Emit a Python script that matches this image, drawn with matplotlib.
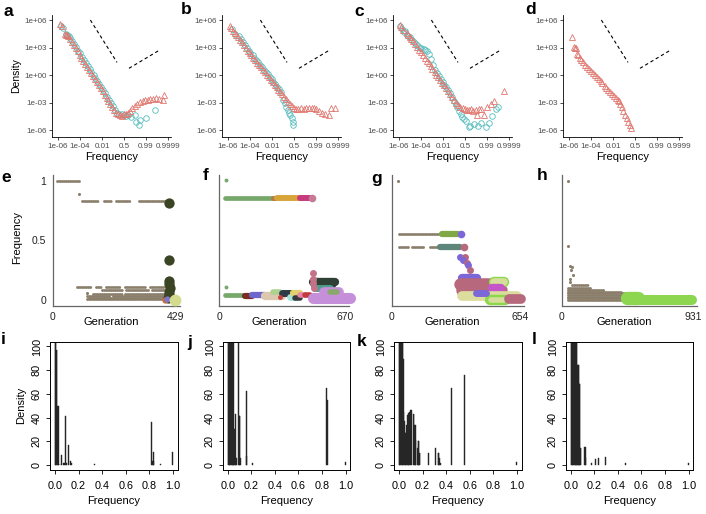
import matplotlib
matplotlib.use("Agg")
import matplotlib.pyplot as plt
import matplotlib.ticker as mticker
import numpy as np

plt.rcParams['font.family'] = ['Liberation Sans', 'DejaVu Sans']

# ---------------- top row: site frequency spectra (log10 density) ----------------
a_tri_f = [1.4e-6, 2.2e-6, 4.5e-6, 5.5e-6, 6.5e-6, 8e-6, 1.2e-5, 1.8e-5, 2.7e-5, 4e-5, 6e-5, 9e-5, 1.35e-4, 2e-4,
           3e-4, 4.5e-4, 6.8e-4, 1e-3, 1.5e-3, 2.3e-3, 3.4e-3, 5e-3, 7.5e-3, 0.011, 0.017, 0.025, 0.037, 0.055,
           0.08, 0.115, 0.16, 0.22, 0.3, 0.4, 0.5, 0.6, 0.7, 0.77, 0.84, 0.9, 0.94, 0.965, 0.98, 0.988, 0.993,
           0.996, 0.9977, 0.9988, 0.9994, 0.9997, 0.99975]
a_tri_d = [5.55, 5.3, 4.45, 4.4, 4.35, 4.26, 3.92, 3.58, 3.24, 2.92, 2.57, 2.24, 1.90, 1.57, 1.23, 0.90, 0.55, 0.23,
           -0.11, -0.47, -0.80, -1.12, -1.45, -1.78, -2.15, -2.48, -2.81, -3.16, -3.50, -3.83, -4.15, -4.3, -4.4,
           -4.45, -4.3, -4.2, -4.1, -3.9, -3.6, -3.4, -3.2, -2.95, -2.8, -2.7, -2.7, -2.6, -2.6, -2.55, -2.6, -2.7, -2.2]
a_circ_f = [2e-6, 2.6e-6, 5e-6, 6e-6, 9e-6, 1.35e-5, 2e-5, 3e-5, 4.5e-5, 6.8e-5, 1e-4, 1.5e-4, 2.3e-4, 3.4e-4, 5e-4,
            7.5e-4, 1.1e-3, 1.7e-3, 2.5e-3, 3.7e-3, 5.5e-3, 8e-3, 0.012, 0.018, 0.027, 0.04, 0.06, 0.09, 0.13, 0.19,
            0.27, 0.38, 0.5, 0.6, 0.7, 0.82, 0.9, 0.93, 0.958, 0.964, 0.9907, 0.9984]
a_circ_d = [5.35, 5.1, 4.45, 4.4, 4.3, 4.02, 3.69, 3.35, 3.02, 2.67, 2.35, 2.01, 1.66, 1.33, 1.01, 0.67, 0.35, -0.01,
            -0.34, -0.66, -1.0, -1.31, -1.65, -2.0, -2.35, -2.68, -3.04, -3.4, -3.8, -4.1, -4.2, -4.3, -4.35, -4.5,
            -4.36, -4.55, -4.36, -5.1, -5.45, -4.9, -4.73, -3.82]

b_tri_f = [1.4e-6, 2e-6, 2.85e-6, 4e-6, 5.7e-6, 8e-6, 1.2e-5, 1.8e-5, 2.7e-5, 4e-5, 6e-5, 9e-5, 1.35e-4, 2e-4, 3e-4,
           4.5e-4, 6.8e-4, 1e-3, 1.5e-3, 2.3e-3, 3.4e-3, 5e-3, 7.5e-3, 0.011, 0.017, 0.025, 0.037, 0.055, 0.08, 0.115,
           0.16, 0.22, 0.3, 0.4, 0.5, 0.6, 0.7, 0.8, 0.88, 0.93, 0.96, 0.975, 0.985, 0.9907, 0.995, 0.997, 0.9985,
           0.9993, 0.99959, 0.9998]
b_tri_d = [5.35, 5.1, 4.75, 4.55, 4.4, 4.15, 3.85, 3.55, 3.25, 2.95, 2.65, 2.35, 2.15, 1.89, 1.62, 1.36, 1.08, 0.83,
           0.56, 0.28, 0.02, -0.24, -0.5, -0.76, -1.05, -1.31, -1.58, -1.85, -2.12, -2.38, -2.63, -2.89, -3.17, -3.4,
           -3.65, -3.75, -3.7, -3.65, -3.7, -3.6, -3.65, -3.55, -3.6, -3.7, -3.9, -4.1, -4.3, -4.4, -3.55, -3.55]
b_circ_f = [2.2e-6, 4.5e-6, 1e-5, 1.5e-5, 2.2e-5, 3.3e-5, 5e-5, 7.5e-5, 1.1e-4, 1.7e-4, 2.5e-4, 3.7e-4, 5.5e-4,
            8.2e-4, 1.2e-3, 1.8e-3, 2.7e-3, 4e-3, 6e-3, 9e-3, 0.013, 0.02, 0.03, 0.045, 0.065, 0.09, 0.13, 0.17,
            0.22, 0.27, 0.32, 0.38, 0.45, 0.47]
b_circ_d = [5.0, 4.5, 4.23, 3.9, 3.58, 3.26, 2.91, 2.62, 2.44, 2.15, 1.89, 1.63, 1.37, 1.11, 0.86, 0.59, 0.32, 0.06,
            -0.21, -0.48, -0.72, -1.01, -1.28, -1.57, -1.82, -2.73, -3.1, -3.45, -3.8, -4.1, -4.4, -4.7, -5.1, -5.45]

c_tri_f = [1.2e-6, 1.6e-6, 2.2e-6, 4.9e-6, 6.5e-6, 9e-6, 1.35e-5, 2e-5, 3e-5, 4.5e-5, 6.8e-5, 1e-4, 1.5e-4, 2.3e-4,
           3.4e-4, 5e-4, 7.5e-4, 1.1e-3, 1.7e-3, 2.5e-3, 3.7e-3, 5.5e-3, 8e-3, 0.012, 0.018, 0.027, 0.04, 0.06, 0.09,
           0.13, 0.19, 0.27, 0.38, 0.5, 0.6, 0.7, 0.78, 0.85, 0.9, 0.93, 0.945, 0.965, 0.98, 0.99, 0.9955, 0.9978,
           0.9997]
c_tri_d = [5.45, 5.27, 4.9, 4.55, 4.4, 4.2, 3.96, 3.67, 3.37, 3.07, 2.76, 2.47, 2.16, 1.84, 1.55, 1.26, 0.95, 0.66,
           0.34, 0.05, -0.24, -0.54, -0.83, -1.14, -1.44, -1.76, -2.06, -2.38, -2.71, -3.0, -3.3, -3.5, -3.65, -3.7,
           -3.8, -3.85, -3.75, -3.9, -3.8, -4.4, -3.7, -3.75, -4.4, -3.5, -3.2, -2.85, -1.7]
c_circ_f = [1.3e-6, 1.8e-6, 2.6e-6, 3.5e-6, 5e-6, 7e-6, 1e-5, 1.5e-5, 2.2e-5, 3.3e-5, 5e-5, 7.5e-5, 1.1e-4, 1.7e-4,
            2.5e-4, 3.7e-4, 5.5e-4, 8.2e-4, 1.2e-3, 1.8e-3, 2.7e-3, 4e-3, 6e-3, 9e-3, 0.013, 0.02, 0.03, 0.045,
            0.065, 0.09, 0.13, 0.17, 0.22, 0.3, 0.35, 0.45, 0.55, 0.71, 0.73, 0.874, 0.933, 0.965, 0.987, 0.9936,
            0.9968, 0.9984, 0.999]
c_circ_d = [5.3, 5.05, 4.7, 4.85, 4.35, 4.3, 4.1, 3.85, 3.6, 3.35, 3.15, 3.0, 2.95, 2.85, 2.75, 2.6, 2.3, 1.75, 1.1,
            0.55, 0.2, -0.15, -0.45, -0.75, -1.05, -1.35, -1.65, -2.0, -2.4, -2.8, -3.2, -3.5, -3.9, -4.25, -4.6,
            -4.8, -5.0, -5.64, -5.6, -5.35, -5.53, -5.27, -5.64, -5.27, -4.44, -3.71, -3.53]

d_tri_f = [2e-6, 2.8e-6, 3.3e-6, 4.5e-6, 5.5e-6, 7e-6, 9.2e-6, 1.35e-5, 2e-5, 3e-5, 4.5e-5, 6.8e-5, 1e-4, 1.5e-4,
           2.3e-4, 3.4e-4, 5e-4, 7.5e-4, 1.1e-3, 1.7e-3, 2.5e-3, 3.7e-3, 5.5e-3, 8e-3, 0.012, 0.018, 0.025, 0.0317,
           0.044, 0.061, 0.079, 0.108, 0.147, 0.195, 0.242, 0.312]
d_tri_d = [4.18, 3.1, 3.0, 2.9, 2.3, 2.15, 1.82, 1.6, 1.38, 1.14, 0.91, 0.68, 0.46, 0.22, -0.02, -0.24, -0.46, -0.69,
           -0.91, -1.16, -1.38, -1.6, -1.83, -2.04, -2.28, -2.51, -2.7, -2.85, -3.16, -3.53, -3.93, -4.36, -4.73,
           -5.09, -5.45, -5.75]

# reference slopes (dashed)
ref1_f = [8.7e-4, 0.187]
ref1_d = [1e6, 24]
ref2_f = [0.739, 0.99943]
ref2_d = [5.4, 537]

sfs_xticks = [1e-6, 1e-4, 0.01, 0.5, 0.99, 0.9999]
sfs_xlabels = ['1e-06', '1e-04', '0.01', '0.5', '0.99', '0.9999']
sfs_yticks = [1e6, 1e3, 1, 1e-3, 1e-6]
sfs_ylabels = ['1e+06', '1e+03', '1e+00', '1e-03', '1e-06']

# ---------------- middle row: clone frequency over generations ----------------
e_gmax, f_gmax, g_gmax, h_gmax = 429, 670, 654, 931

e_rows = [(16, 90, 1.0), (102, 161, 0.83), (179, 202, 0.83), (220, 273, 0.83), (302, 395, 0.83),
          (85, 138, 0.112), (150, 167, 0.112), (185, 238, 0.112), (250, 320, 0.112), (338, 390, 0.112),
          (170, 240, 0.08), (255, 330, 0.08), (345, 395, 0.08), (140, 240, 0.05), (250, 390, 0.05),
          (120, 200, 0.035), (210, 392, 0.035), (125, 392, 0.02), (118, 385, 0.008)]
e_dots = [(90, 0.886), (118, 0.06)]
e_runs = []
e_blobs = [(406, 0.815), (406, 0.335), (403, 0.16), (405, 0.13), (407, 0.1), (404, 0.07), (406, 0.045),
           (402, 0.02), (390, 0.0), (396, 0.005), (424, 0.0)]

f_rows = []
f_dots = []
f_runs = [(30, 288, 0.852), (288, 310, 0.852), (310, 430, 0.852), (430, 483, 0.852),
          (30, 130, 0.042), (137, 172, 0.03), (172, 243, 0.042), (243, 332, 0.03), (288, 325, 0.065),
          (332, 394, 0.06), (376, 403, 0.028), (394, 430, 0.06), (403, 430, 0.014), (430, 456, 0.04),
          (456, 483, 0.042), (501, 617, 0.15), (510, 600, 0.125), (510, 590, 0.098), (501, 697, 0.02),
          (560, 640, 0.07), (590, 625, 0.07)]
f_blobs = [(34, 1.01), (36, 0.11), (492, 0.852), (501, 0.224), (501, 0.18), (501, 0.14), (505, 0.1), (323, 0.028)]

g_rows = [(39, 255, 0.553), (39, 90, 0.441), (102, 170, 0.441), (196, 246, 0.441)]
g_dots = [(34, 0.997)]
g_runs = [(255, 340, 0.553), (246, 348, 0.441), (357, 434, 0.182), (350, 500, 0.13), (360, 560, 0.085),
          (520, 575, 0.154), (520, 575, 0.154), (510, 560, 0.098), (360, 640, 0.035), (500, 580, 0.0),
          (505, 575, 0.0), (600, 660, 0.01), (430, 480, 0.056)]
g_blobs = [(352, 0.553), (369, 0.441), (348, 0.363), (374, 0.36), (365, 0.335), (383, 0.307), (390, 0.29),
           (397, 0.251)]

h_rows = [(71, 189, 0.125), (47, 212, 0.098), (47, 300, 0.085), (47, 420, 0.07), (47, 460, 0.056),
          (47, 480, 0.042), (47, 520, 0.028), (47, 520, 0.014), (47, 470, 0.0)]
h_dots = [(42, 0.997), (47, 0.455), (59, 0.285), (71, 0.279), (64, 0.251), (78, 0.209), (59, 0.176), (62, 0.15)]
h_runs = [(461, 544, 0.014), (544, 922, 0.0)]
h_blobs = []

# ---------------- bottom row: histograms ----------------
i_x = [0.0025, 0.0075, 0.0125, 0.0175, 0.0225, 0.0275, 0.0325, 0.0425, 0.0575, 0.0725, 0.0775, 0.0875, 0.0975,
       0.1175, 0.1325, 0.1425, 0.3375, 0.8175, 0.8275, 0.8325, 0.8375, 0.8925, 0.9975]
i_h = [130, 130, 97, 97, 50, 50, 1, 1, 8, 1.5, 1.5, 41, 2, 17, 3, 1.5, 1, 36, 3, 3, 11, 1, 11]
j_x = [0.0025, 0.0075, 0.0125, 0.0175, 0.0225, 0.0275, 0.0325, 0.0375, 0.0425, 0.0475, 0.0525, 0.0575, 0.0625,
       0.0675, 0.0725, 0.0925, 0.0975, 0.1025, 0.1075, 0.1575, 0.1625, 0.2125, 0.8375, 0.8425, 0.9975]
j_h = [130, 130, 130, 130, 130, 130, 130, 130, 130, 130, 30, 30, 43, 5.6, 5.6, 130, 41, 41, 5.6, 7.6, 62.5, 1.4,
       65, 55, 2.3]
k_x = [0.0025, 0.0075, 0.0125, 0.0175, 0.0225, 0.0275, 0.0325, 0.0375, 0.0425, 0.0475, 0.0525, 0.0575, 0.0625,
       0.0675, 0.0725, 0.0775, 0.0825, 0.0875, 0.0925, 0.0975, 0.1025, 0.1225, 0.1275, 0.1325, 0.1375, 0.1425,
       0.1575, 0.1625, 0.1675, 0.1725, 0.1775, 0.2475, 0.3075, 0.3325, 0.3375, 0.3425, 0.3525, 0.4425, 0.5525,
       0.9975]
k_h = [130, 130, 130, 130, 130, 130, 130, 89, 45, 37, 27, 27, 34, 30, 42, 42, 44, 45, 45, 46, 46, 43, 43, 34, 34,
       21, 14, 20, 20, 10, 10, 10, 14, 10, 10, 5.6, 1.4, 65, 76, 2.8]
l_x = [0.0025, 0.0075, 0.0125, 0.0175, 0.0225, 0.0275, 0.0325, 0.0375, 0.0425, 0.0475, 0.0525, 0.0575, 0.0625,
       0.0675, 0.0725, 0.0775, 0.0825, 0.0875, 0.1175, 0.1225, 0.1275, 0.1775, 0.2075, 0.2375, 0.2925, 0.4675,
       0.9975]
l_h = [130, 130, 130, 130, 130, 130, 130, 130, 130, 130, 130, 84.5, 84.5, 84.5, 68, 68, 14, 14, 15.5, 15.5, 5.6,
       2, 4.8, 5.6, 7, 1.4, 1.4]

# ---------------- styles ----------------
tri_col = '#E0776F'
circ_col = '#55BCBD'
brown = '#8B7F6C'
olive = '#3B4423'
green = '#77A86B'
purple = '#7C67D8'
mauve = '#B7687C'

e_run_style = []
e_blob_style = [(olive, 7.4)] * 8 + [('#C8693B', 4.5), ('#7D76C9', 4.5), ('#D4DB8E', 8.5)]
f_run_style = [(green, 3.4), ('#B67B45', 3.6), ('#D8A53B', 4.3), ('#C83A7C', 4.3),
               (green, 3.4), ('#7A2E22', 4.5), ('#6E66CD', 4.5), ('#DCC8AE', 6), ('#AED190', 4),
               ('#2E3B46', 5), ('#A6E3DA', 5), ('#E2D16E', 4.5), ('#3A3A3A', 4), ('#E685AA', 4),
               ('#C23C3E', 4), ('#2F4034', 6), ('#2F4034', 6), ('#4F9E8C', 5), ('#C590D9', 8),
               ('#C590D9', 7), ('#8AA86C', 4)]
f_blob_style = [(green, 2.8), (green, 2.8), ('#C67A96', 5.5), ('#C47288', 5), ('#C47288', 5), ('#C47288', 5),
                ('#C47288', 5), ('#C84040', 3.5)]
g_run_style = [('#80A847', 4.5), ('#5E857A', 4.5), (purple, 6), (mauve, 9), (mauve, 9), ('#8CD84A', 7.5),
               ('#D6DE9C', 5.5), ('#C556C9', 6), ('#DCDC9E', 7), ('#8CD84A', 7.5), ('#D6DE9C', 4), (mauve, 7),
               (purple, 5)]
g_blob_style = [(purple, 5.5), (mauve, 5.5), (purple, 5), (mauve, 5), (purple, 5), (mauve, 5), (purple, 5),
                (mauve, 5)]
h_run_style = [('#8CD650', 9.6), ('#8CD650', 7.2)]
h_blob_style = []

W, H = 706, 514
fig = plt.figure(figsize=(W / 100, H / 100), dpi=100)


def px_axes(left, top, right, bottom):
    return fig.add_axes([left / W, 1 - bottom / H, (right - left) / W, (bottom - top) / H])


def sfs_panel(left, tri, circ, ylab):
    ax = px_axes(left, 15, left + 119, 137)
    ax.set_xscale('logit')
    ax.set_yscale('log')
    if circ is not None:
        ax.plot(circ[0], 10 ** np.array(circ[1]), ls='none', marker='o', ms=4.0, mfc='none',
                mec=circ_col, mew=0.6)
    ax.plot(tri[0], 10 ** np.array(tri[1]), ls='none', marker='^', ms=4.5, mfc='none', mec=tri_col, mew=0.6)
    ax.plot(ref1_f, ref1_d, color='k', lw=0.8, ls=(0, (3, 2.5)))
    ax.plot(ref2_f, ref2_d, color='k', lw=0.8, ls=(0, (3, 2.5)))
    ax.set_xlim(3e-7, 1 - 5e-5)
    ax.set_ylim(10 ** -6.76, 10 ** 6.55)
    ax.set_xticks(sfs_xticks)
    ax.set_xticklabels(sfs_xlabels)
    ax.set_yticks(sfs_yticks)
    ax.set_yticklabels(sfs_ylabels)
    ax.xaxis.set_minor_locator(mticker.NullLocator())
    ax.yaxis.set_minor_locator(mticker.NullLocator())
    for s in ['top', 'right']:
        ax.spines[s].set_visible(False)
    for s in ['left', 'bottom']:
        ax.spines[s].set_linewidth(0.6)
    ax.tick_params(length=2.5, width=0.5, labelsize=5.8, labelcolor='#4D4D4D', pad=1.5)
    ax.set_xlabel('Frequency', fontsize=8, labelpad=2)
    if ylab:
        ax.set_ylabel('Density', fontsize=7.5, labelpad=2)


def clone_panel(left, gmax, px_per_gen, rows, dots, runs, run_style, blobs, blob_style, ylab):
    right = left + gmax * 1.03 * px_per_gen
    ax = px_axes(left, 175, right, 305.7)
    for g0, g1, fr in rows:
        ax.plot([g0, g1], [fr, fr], color=brown, lw=2.1, ls=(0, (0.05, 0.7)), dash_capstyle='round',
                clip_on=False)
    if dots:
        dg, dfr = zip(*dots)
        ax.scatter(dg, dfr, s=5, color=brown, lw=0, clip_on=False)
    for (g0, g1, fr), (c, w) in zip(runs, run_style):
        ax.plot([g0, g1], [fr, fr], color=c, lw=w, solid_capstyle='round', clip_on=False)
    for (g, fr), (c, w) in zip(blobs, blob_style):
        ax.scatter([g], [fr], s=w ** 2, color=c, lw=0, clip_on=False, zorder=3)
    ax.set_xlim(0, gmax * 1.03)
    ax.set_ylim(-0.048, 1.048)
    ax.set_xticks([0, gmax])
    ax.set_xticklabels(['0', str(gmax)])
    if ylab:
        ax.set_yticks([0, 0.5, 1])
        ax.set_yticklabels(['0', '0.5', '1'])
    else:
        ax.set_yticks([])
    for s in ['top', 'right']:
        ax.spines[s].set_visible(False)
    for s in ['left', 'bottom']:
        ax.spines[s].set_linewidth(0.9)
        ax.spines[s].set_color('#666666')
    ax.tick_params(length=0, labelsize=7.5, pad=4.5, labelcolor='#222222')
    fig.text((left + (right - left) / 2 - 5) / W, 1 - 322 / H, 'Generation', fontsize=8, ha='center', va='center')
    if ylab:
        fig.text(16.7 / W, 1 - 238 / H, 'Frequency', fontsize=8, rotation=90, ha='center', va='center')


def hist_panel(left, x, h, ylab):
    ax = px_axes(left, 341.7, left + 127.4, 469.7)
    ax.bar(x, h, width=0.007, color='#262626', edgecolor='#262626', lw=0.3)
    ax.set_xlim(-0.04, 1.04)
    ax.set_ylim(-4, 104)
    ax.set_xticks([0, 0.2, 0.4, 0.6, 0.8, 1.0])
    ax.set_xticklabels(['0.0', '0.2', '0.4', '0.6', '0.8', '1.0'])
    ax.set_yticks([0, 20, 40, 60, 80, 100])
    ax.set_yticklabels(['0', '20', '40', '60', '80', '100'], rotation=90, va='center')
    for s in ax.spines.values():
        s.set_linewidth(0.7)
    ax.tick_params(length=3, width=0.6, labelsize=7.8, pad=3)
    ax.tick_params(axis='x', pad=5)
    ax.set_xlabel('Frequency', fontsize=8, labelpad=4)
    if ylab:
        ax.set_ylabel('Density', fontsize=8, labelpad=4)


sfs_panel(52.3, (a_tri_f, a_tri_d), (a_circ_f, a_circ_d), True)
sfs_panel(222.3, (b_tri_f, b_tri_d), (b_circ_f, b_circ_d), False)
sfs_panel(393.3, (c_tri_f, c_tri_d), (c_circ_f, c_circ_d), False)
sfs_panel(563.3, (d_tri_f, d_tri_d), None, False)

clone_panel(52.7, e_gmax, 0.2874, e_rows, e_dots, e_runs, e_run_style, e_blobs, e_blob_style, True)
clone_panel(219.3, f_gmax, 0.1876, f_rows, f_dots, f_runs, f_run_style, f_blobs, f_blob_style, False)
clone_panel(391.7, g_gmax, 0.196, g_rows, g_dots, g_runs, g_run_style, g_blobs, g_blob_style, False)
clone_panel(561.7, h_gmax, 0.141, h_rows, h_dots, h_runs, h_run_style, h_blobs, h_blob_style, False)

hist_panel(50.3, i_x, i_h, True)
hist_panel(223.0, j_x, j_h, False)
hist_panel(394.3, k_x, k_h, False)
hist_panel(566.0, l_x, l_h, False)

letters = ['a', 'b', 'c', 'd', 'e', 'f', 'g', 'h', 'i', 'j', 'k', 'l']
letter_pos = [(8, 11), (186, 10), (359, 11), (531, 10), (6, 177), (205.5, 176), (377, 179), (542, 176),
              (3.5, 340), (190, 342), (362, 341), (534, 340)]
for lab, (lx, ly) in zip(letters, letter_pos):
    fig.text(lx / W, 1 - ly / H, lab, fontsize=12.5, fontweight='bold', ha='center', va='center')

fig.savefig('out.png', dpi=100)
